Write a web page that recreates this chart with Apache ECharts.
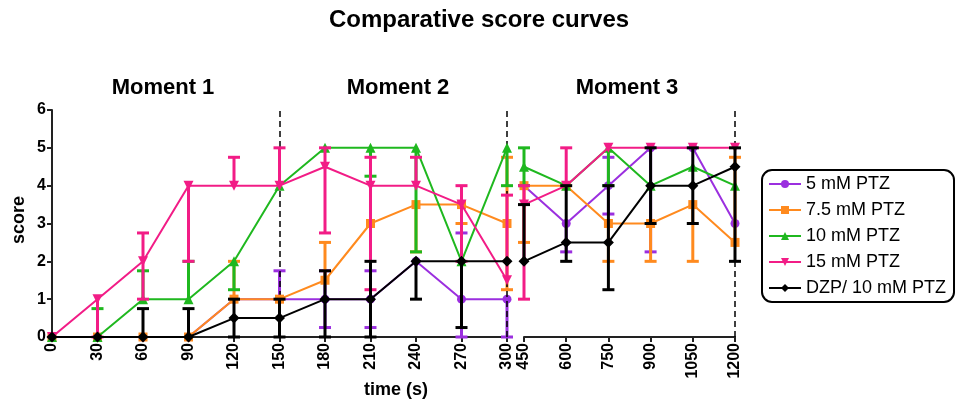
<!DOCTYPE html>
<html>
<head>
<meta charset="utf-8">
<script src="https://cdn.jsdelivr.net/npm/echarts@6/dist/echarts.min.js"></script>
<style>
  html, body { margin: 0; padding: 0; background: #fff; }
  #chart { width: 958px; height: 407px; }
</style>
</head>
<body>
<div id="chart"></div>
<script>
// Time points (s): first panel 0–300, second panel 450–1200
const timesLeft = [0, 30, 60, 90, 120, 150, 180, 210, 240, 270, 300];
const timesRight = [450, 600, 750, 900, 1050, 1200];
const xTicksLeft = [0, 30, 60, 90, 120, 150, 180, 210, 240, 270, 300];
const xTicksRight = [450, 600, 750, 900, 1050, 1200];
const momentLabels = ['Moment 1', 'Moment 2', 'Moment 3'];
const groupNames = ['5 mM PTZ', '7.5 mM PTZ', '10 mM PTZ', '15 mM PTZ', 'DZP/ 10 mM PTZ'];

// Scores per group (17 points: 11 in the first panel, 6 in the second),
// with the lower and upper ends of each error bar
const ptz5Mean = [0, 0, 0, 0, 1, 1, 1, 1, 2, 1, 1, 4, 3, 4, 5, 5, 3];
const ptz5Low  = [0, 0, 0, 0, 1, 1, 0.25, 0.25, 2, 0, 0, 4, 2.25, 3.25, 2.25, 5, 3];
const ptz5High = [0, 0, 0, 0, 1, 1.75, 1.75, 1.75, 2, 2.75, 1, 4, 3, 4.75, 5, 5, 3];

const ptz75Mean = [0, 0, 0, 0, 1, 1, 1.5, 3, 3.5, 3.5, 3, 4, 4, 3, 3, 3.5, 2.5];
const ptz75Low  = [0, 0, 0, 0, 1, 1, 1.5, 3, 2.25, 3, 1.25, 2.5, 4, 2, 2, 2, 2.5];
const ptz75High = [0, 0, 0, 0, 2, 1, 2.5, 3, 3.5, 3.5, 4.75, 4, 4, 3, 3, 3.5, 4.75];

const ptz10Mean = [0, 0, 1, 1, 2, 4, 5, 5, 5, 2, 5, 4.5, 4, 5, 4, 4.5, 4];
const ptz10Low  = [0, 0, 1, 1, 1.25, 4, 5, 4.25, 2.25, 2, 4, 4, 4, 4, 4, 4.5, 4];
const ptz10High = [0, 0.75, 1.75, 2, 2, 4, 5, 5, 5, 2, 5, 5, 4, 5, 4, 4.5, 4];

const ptz15Mean = [0, 1, 2, 4, 4, 4, 4.5, 4, 4, 3.5, 1.5, 3.5, 4, 5, 5, 5, 5];
const ptz15Low  = [0, 0, 1, 2, 4, 4, 2.75, 1.25, 4, 2, 1.5, 1, 4, 5, 5, 5, 5];
const ptz15High = [0, 1, 2.75, 4, 4.75, 5, 5, 4.75, 4.75, 4, 3.75, 4, 5, 5, 5, 5, 5];

const dzpMean = [0, 0, 0, 0, 0.5, 0.5, 1, 1, 2, 2, 2, 2, 2.5, 2.5, 4, 4, 4.5];
const dzpLow  = [0, 0, 0, 0, 0, 0, 0, 0, 1, 0.25, 2, 2, 2, 1.25, 3, 3, 2];
const dzpHigh = [0, 0, 0.75, 0.75, 1, 1, 1.75, 2, 2, 2, 2, 3.5, 4, 4, 5, 5, 5];

const groups = [
  { name: groupNames[0], mean: ptz5Mean, low: ptz5Low, high: ptz5High, color: '#9B2FDF', symbol: 'circle', size: 9 },
  { name: groupNames[1], mean: ptz75Mean, low: ptz75Low, high: ptz75High, color: '#FF8A1E', symbol: 'rect', size: 9 },
  { name: groupNames[2], mean: ptz10Mean, low: ptz10Low, high: ptz10High, color: '#1FB81F', symbol: 'triangle', size: 10 },
  { name: groupNames[3], mean: ptz15Mean, low: ptz15Low, high: ptz15High, color: '#F21C86', symbol: 'path://M0,0 L10,0 L5,10 Z', size: 10 },
  { name: groupNames[4], mean: dzpMean, low: dzpLow, high: dzpHigh, color: '#000000', symbol: 'diamond', size: 11 }
];

const nLeft = timesLeft.length;
const FONT = 'Liberation Sans, Arial, sans-serif';

function errorBarRenderer(color) {
  return function (params, api) {
    const x = api.value(0), m = api.value(1), lo = api.value(2), hi = api.value(3);
    const pm = api.coord([x, m]);
    const children = [];
    const style = { stroke: color, lineWidth: 3 };
    const cap = 6;
    if (hi > m) {
      const ph = api.coord([x, hi]);
      children.push({ type: 'line', shape: { x1: pm[0], y1: pm[1], x2: ph[0], y2: ph[1] }, style });
      children.push({ type: 'line', shape: { x1: ph[0] - cap, y1: ph[1], x2: ph[0] + cap, y2: ph[1] }, style });
    }
    if (lo < m) {
      const pl = api.coord([x, lo]);
      children.push({ type: 'line', shape: { x1: pm[0], y1: pm[1], x2: pl[0], y2: pl[1] }, style });
      children.push({ type: 'line', shape: { x1: pl[0] - cap, y1: pl[1], x2: pl[0] + cap, y2: pl[1] }, style });
    }
    return { type: 'group', children };
  };
}

const series = [];
groups.forEach(function (g, gi) {
  [0, 1].forEach(function (panel) {
    const times = panel === 0 ? timesLeft : timesRight;
    const offset = panel === 0 ? 0 : nLeft;
    const pts = times.map((t, i) => [t, g.mean[offset + i]]);
    const bars = times.map((t, i) => [t, g.mean[offset + i], g.low[offset + i], g.high[offset + i]]);
    series.push({
      type: 'custom',
      xAxisIndex: panel, yAxisIndex: panel,
      renderItem: errorBarRenderer(g.color),
      encode: { x: 0, y: [1, 2, 3] },
      data: bars,
      z: 2 + gi * 2,
      silent: true
    });
    const s = {
      type: 'line',
      name: g.name,
      xAxisIndex: panel, yAxisIndex: panel,
      data: pts,
      symbol: g.symbol,
      symbolSize: g.size,
      showAllSymbol: true,
      lineStyle: { color: g.color, width: 2 },
      itemStyle: { color: g.color },
      z: 3 + gi * 2,
      animation: false
    };
    if (gi === groups.length - 1) {
      s.markLine = {
        silent: true,
        symbol: ['none', 'none'],
        label: { show: false },
        lineStyle: { color: '#000', type: [6, 4], width: 1.5 },
        data: panel === 0 ? [{ xAxis: 150 }, { xAxis: 300 }] : [{ xAxis: 1200 }]
      };
    }
    series.push(s);
  });
});

const axisCommon = {
  axisLine: { show: true, lineStyle: { color: '#222', width: 2 } },
  axisTick: { show: true, length: 5, lineStyle: { color: '#222', width: 2 } },
  splitLine: { show: false },
  axisLabel: { color: '#000', fontWeight: 'bold', fontSize: 16, fontFamily: FONT, formatter: v => String(v) }
};

const option = {
  animation: false,
  backgroundColor: '#fff',
  grid: [
    { left: 52, top: 110, width: 455, height: 227 },
    { left: 524, top: 110, width: 211, height: 227 }
  ],
  xAxis: [
    Object.assign({}, axisCommon, {
      type: 'value', gridIndex: 0, min: xTicksLeft[0], max: xTicksLeft[xTicksLeft.length - 1], interval: 30,
      axisLabel: Object.assign({}, axisCommon.axisLabel, { rotate: 90, margin: 6 })
    }),
    Object.assign({}, axisCommon, {
      type: 'value', gridIndex: 1, min: xTicksRight[0], max: xTicksRight[xTicksRight.length - 1], interval: 150,
      axisLabel: Object.assign({}, axisCommon.axisLabel, { rotate: 90, margin: 6 })
    })
  ],
  yAxis: [
    Object.assign({}, axisCommon, {
      type: 'value', gridIndex: 0, min: 0, max: 6, interval: 1,
      axisLabel: Object.assign({}, axisCommon.axisLabel, { margin: 6 })
    }),
    { type: 'value', gridIndex: 1, min: 0, max: 6, interval: 1, show: false, splitLine: { show: false } }
  ],
  legend: {
    data: groupNames,
    orient: 'vertical',
    left: 762, top: 170,
    itemWidth: 32, itemHeight: 10, itemGap: 8,
    padding: [5, 8, 5, 6],
    borderColor: '#000', borderWidth: 2, borderRadius: 10,
    textStyle: { color: '#000', fontSize: 18, fontFamily: FONT },
    selectedMode: false
  },
  graphic: [
    { type: 'text', left: 'center', x: 0, top: 8,
      style: { text: 'Comparative score curves', font: 'bold 24px ' + FONT, fill: '#000' } },
    { type: 'text', x: 163, y: 88,
      style: { text: momentLabels[0], font: 'bold 22px ' + FONT, fill: '#000', textAlign: 'center', textVerticalAlign: 'middle' } },
    { type: 'text', x: 398, y: 88,
      style: { text: momentLabels[1], font: 'bold 22px ' + FONT, fill: '#000', textAlign: 'center', textVerticalAlign: 'middle' } },
    { type: 'text', x: 627, y: 88,
      style: { text: momentLabels[2], font: 'bold 22px ' + FONT, fill: '#000', textAlign: 'center', textVerticalAlign: 'middle' } },
    { type: 'text', x: 19, y: 220, rotation: Math.PI / 2,
      style: { text: 'score', font: 'bold 18px ' + FONT, fill: '#000', textAlign: 'center', textVerticalAlign: 'middle' } },
    { type: 'text', x: 396, y: 390,
      style: { text: 'time (s)', font: 'bold 18px ' + FONT, fill: '#000', textAlign: 'center', textVerticalAlign: 'middle' } }
  ],
  series: series
};

const chart = echarts.init(document.getElementById('chart'), null, { renderer: 'canvas' });
chart.setOption(option);
</script>
</body>
</html>
